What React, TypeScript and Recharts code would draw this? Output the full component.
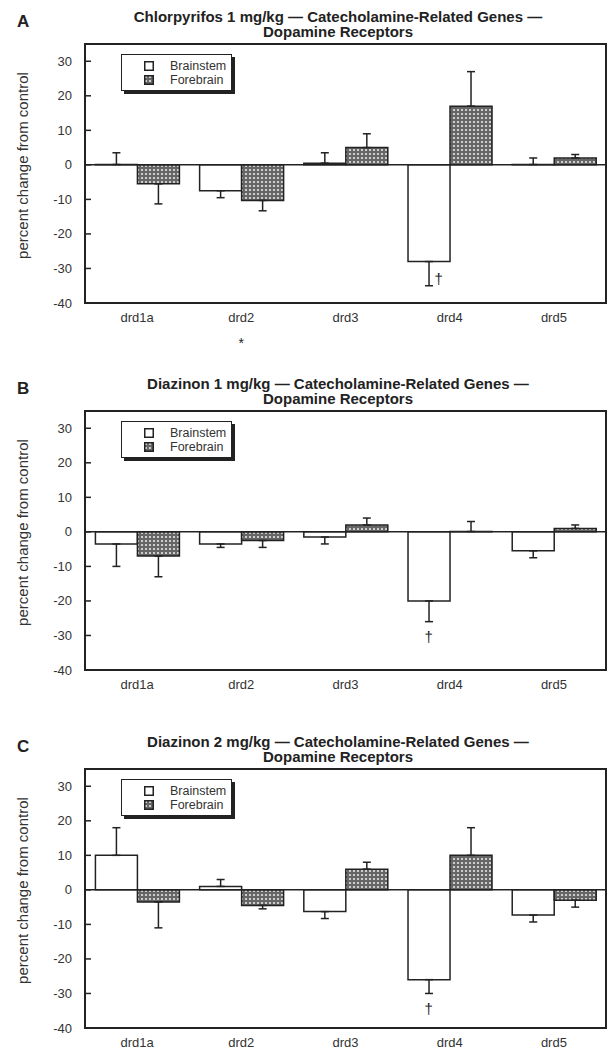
import React from 'react';
import { BarChart, Bar, XAxis, YAxis, ErrorBar, ReferenceLine, ReferenceArea, ReferenceDot, Legend } from 'recharts';

const genes = ['drd1a', 'drd2', 'drd3', 'drd4', 'drd5'];
const yTicks = [-40, -30, -20, -10, 0, 10, 20, 30];

// A: chlorpyrifos 1 mg/kg
const cpfBrainstem = [0.1, -7.5, 0.5, -28, 0.1];
const cpfBrainstemErr = [3.4, 2, 3, 7, 1.9];
const cpfForebrain = [-5.5, -10.3, 5, 17, 2];
const cpfForebrainErr = [5.8, 3, 4, 10, 1];

// B: diazinon 1 mg/kg
const dzn1Brainstem = [-3.5, -3.5, -1.5, -20, -5.5];
const dzn1BrainstemErr = [6.5, 1, 2, 6, 2];
const dzn1Forebrain = [-7, -2.5, 2, 0.1, 1];
const dzn1ForebrainErr = [6, 2, 2, 2.9, 1];

// C: diazinon 2 mg/kg
const dzn2Brainstem = [10, 1, -6.3, -26, -7.3];
const dzn2BrainstemErr = [8, 2, 2, 4, 2];
const dzn2Forebrain = [-3.5, -4.5, 6, 10, -3];
const dzn2ForebrainErr = [7.5, 1, 2, 8, 2];

const INK = '#222';
const FONT = '"Liberation Sans", Arial, Helvetica, sans-serif';

// error bars only point away from zero
const oneSided = (v: number, e: number) => (v >= 0 ? [0, e] : [e, 0]);

const buildRows = (b: number[], bErr: number[], f: number[], fErr: number[]) =>
  genes.map((g, i) => ({
    gene: g,
    Brainstem: b[i],
    bErr: oneSided(b[i], bErr[i]),
    Forebrain: f[i],
    fErr: oneSided(f[i], fErr[i]),
  }));

const YTick = ({ x, y, payload }: any) => (
  <g>
    <line x1={x} x2={x + 6} y1={y} y2={y} stroke={INK} strokeWidth={1.5} />
    <text x={x - 13} y={y} dy={4.5} textAnchor="end" fontSize={13} fill="#333" fontFamily={FONT}>
      {payload.value}
    </text>
  </g>
);

const makeXTick = (stars: string[]) => ({ x, y, payload }: any) => (
  <g>
    <text x={x} y={y + 19} textAnchor="middle" fontSize={13} fill="#333" fontFamily={FONT}>
      {payload.value}
    </text>
    {stars.includes(payload.value) && (
      <text x={x} y={y + 45} textAnchor="middle" fontSize={14} fill={INK} fontFamily={FONT}>*</text>
    )}
  </g>
);

const YLabel = ({ viewBox }: any) => {
  const cx = viewBox.x - 2;
  const cy = viewBox.y + viewBox.height / 2 - 8;
  return (
    <text x={cx} y={cy} transform={`rotate(-90 ${cx} ${cy})`} textAnchor="middle" dy={5}
      fontSize={15} fill="#333" fontFamily={FONT}>
      percent change from control
    </text>
  );
};

const LegendBox = ({ payload }: any) => (
  <div style={{
    border: `1.5px solid ${INK}`, boxShadow: `3px 3px 0 ${INK}`, background: '#fff',
    width: 111, height: 37, boxSizing: 'border-box', padding: '4px 0 0 22px',
    fontFamily: FONT, fontSize: 12.5, color: '#333', lineHeight: '14px',
  }}>
    {(payload || []).map((p: any) => (
      <div key={p.value} style={{ display: 'flex', alignItems: 'center' }}>
        <svg width={10} height={10} style={{ marginRight: 16 }}>
          <rect x={0.75} y={0.75} width={8.5} height={8.5}
            fill={p.value === 'Forebrain' ? 'url(#fbHatch)' : '#fff'} stroke={INK} strokeWidth={1.5} />
        </svg>
        <span>{p.value}</span>
      </div>
    ))}
  </div>
);

interface PanelProps {
  top: number;
  letter: string;
  title: string;
  rows: any[];
  daggerGene: string;
  daggerY: number;
  daggerDx: number;
  stars: string[];
}

const Panel: React.FC<PanelProps> = ({ top, letter, title, rows, daggerGene, daggerY, daggerDx, stars }) => (
  <div style={{ position: 'absolute', top, left: 0, width: 616, height: 355 }}>
    <div style={{ position: 'absolute', left: 17, top: 12, fontFamily: FONT, fontWeight: 'bold', fontSize: 17, color: INK }}>
      {letter}
    </div>
    <div style={{
      position: 'absolute', left: 338, top: 9, transform: 'translateX(-50%)', whiteSpace: 'nowrap',
      textAlign: 'center', fontFamily: FONT, fontWeight: 'bold', fontSize: 15, lineHeight: '15px', color: INK,
    }}>
      {title}<br />Dopamine Receptors
    </div>
    <BarChart width={616} height={355} data={rows} margin={{ top: 44, right: 10, left: 25, bottom: 22 }}
      barCategoryGap="10%" barGap={0}>
      <XAxis dataKey="gene" axisLine={false} tickLine={false} tickSize={0} tickMargin={0} height={30}
        tick={makeXTick(stars)} interval={0} />
      <YAxis domain={[-40, 35]} ticks={yTicks} axisLine={false} tickLine={false} tickSize={0} tickMargin={0}
        width={60} tick={<YTick />} label={<YLabel />} allowDataOverflow />
      <ReferenceArea y1={-40} y2={35} fill="none" stroke={INK} strokeWidth={2} fillOpacity={0} />
      <Legend layout="vertical" align="center" verticalAlign="middle" content={<LegendBox />}
        wrapperStyle={{ top: 54, left: 121, width: 116, height: 42 }} />
      <Bar dataKey="Brainstem" fill="#fff" stroke={INK} strokeWidth={1.5} isAnimationActive={false}>
        <ErrorBar dataKey="bErr" direction="y" width={4} stroke={INK} strokeWidth={1.5} />
      </Bar>
      <Bar dataKey="Forebrain" fill="url(#fbHatch)" stroke={INK} strokeWidth={1.5} isAnimationActive={false}>
        <ErrorBar dataKey="fErr" direction="y" width={4} stroke={INK} strokeWidth={1.5} />
      </Bar>
      <ReferenceLine y={0} stroke={INK} strokeWidth={1.5} />
      <ReferenceDot x={daggerGene} y={daggerY} r={0}
        shape={(p: any) => (
          <text x={p.cx - 21 + daggerDx} y={p.cy} dy={5} textAnchor="middle" fontSize={15} fill={INK} fontFamily={FONT}>†</text>
        )} />
    </BarChart>
  </div>
);

export default function App() {
  return (
    <div style={{ position: 'absolute', top: 0, left: 0, width: 616, height: 1055, overflow: 'hidden', background: '#fff' }}>
      <svg width={0} height={0} style={{ position: 'absolute' }}>
        <defs>
          <pattern id="fbHatch" width={4} height={4} patternUnits="userSpaceOnUse">
            <rect width={4} height={4} fill="#666" />
            <circle cx={2} cy={2} r={1.1} fill="#e6e6e6" />
          </pattern>
        </defs>
      </svg>
      <Panel top={0} letter="A" title="Chlorpyrifos 1 mg/kg — Catecholamine-Related Genes —"
        rows={buildRows(cpfBrainstem, cpfBrainstemErr, cpfForebrain, cpfForebrainErr)}
        daggerGene="drd4" daggerY={-33} daggerDx={10} stars={['drd2']} />
      <Panel top={367} letter="B" title="Diazinon 1 mg/kg — Catecholamine-Related Genes —"
        rows={buildRows(dzn1Brainstem, dzn1BrainstemErr, dzn1Forebrain, dzn1ForebrainErr)}
        daggerGene="drd4" daggerY={-30.5} daggerDx={0} stars={[]} />
      <Panel top={725} letter="C" title="Diazinon 2 mg/kg — Catecholamine-Related Genes —"
        rows={buildRows(dzn2Brainstem, dzn2BrainstemErr, dzn2Forebrain, dzn2ForebrainErr)}
        daggerGene="drd4" daggerY={-34.5} daggerDx={0} stars={[]} />
    </div>
  );
}
